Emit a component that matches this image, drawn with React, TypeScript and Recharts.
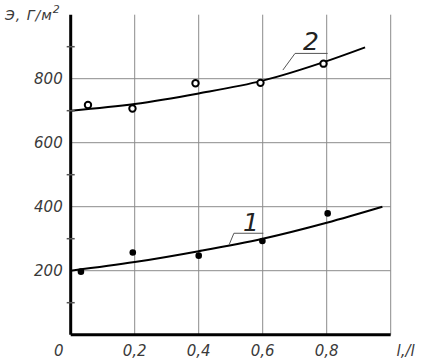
import React from 'react';
import { ComposedChart, Line, Scatter, XAxis, YAxis, ReferenceLine } from 'recharts';

// ticks & labels
const xTicks = [0, 0.2, 0.4, 0.6, 0.8];
const xTickLabels = ['0', '0,2', '0,4', '0,6', '0,8'];
const yTicks = [100, 200, 300, 400, 500, 600, 700, 800, 900];
const yLabelTicks = [200, 400, 600, 800];
const yTickLabels = ['200', '400', '600', '800'];
const vGrid = [0.2, 0.4, 0.6, 0.8, 1.0];
const hGrid = [200, 400, 600, 800];

// series 2 (open circles)
const points2X = [0.054, 0.193, 0.39, 0.593, 0.79];
const points2Y = [718, 707, 786, 787, 847];
const curve2X = [0, 0.2, 0.4, 0.6, 0.8, 0.92];
const curve2Y = [700, 721, 754, 794, 855, 898];

// series 1 (filled dots)
const points1X = [0.032, 0.194, 0.4, 0.599, 0.803];
const points1Y = [197, 257, 247, 293, 379];
const curve1X = [0, 0.2, 0.4, 0.6, 0.8, 0.974];
const curve1Y = [200, 227, 261, 300, 350, 400];

// curve labels and leaders
const leader2X = [0.663, 0.701, 0.803];
const leader2Y = [827, 879, 879];
const leader1X = [0.495, 0.51, 0.602];
const leader1Y = [281, 317, 317];
const curveLabels = ['1', '2'];
const curveLabelX = [0.563, 0.751];
const curveLabelY = [352, 917];

const zip = (xs: number[], ys: number[]) => xs.map((x, i) => ({ x, y: ys[i] }));

const points2 = zip(points2X, points2Y);
const points1 = zip(points1X, points1Y);
const curve2 = zip(curve2X, curve2Y);
const curve1 = zip(curve1X, curve1Y);
const leader2 = zip(leader2X, leader2Y);
const leader1 = zip(leader1X, leader1Y);
const labelData = curveLabels.map((label, i) => ({ x: curveLabelX[i], y: curveLabelY[i], label }));

const FONT = '"DejaVu Sans", sans-serif';
const TEXT = '#3a3a3a';
const GRID = '#8c8c8c';

const XTick = (props: any) => {
  const { x, y, payload } = props;
  const idx = xTicks.indexOf(payload.value);
  const label = idx >= 0 ? xTickLabels[idx] : '';
  const dx = payload.value === 0 ? -12 : 0;
  return (
    <text x={x + dx} y={y + 21} textAnchor="middle" fontFamily={FONT} fontStyle="italic" fontSize={15} fill={TEXT}>
      {label}
    </text>
  );
};

const YTick = (props: any) => {
  const { x, y, payload } = props;
  const idx = yLabelTicks.indexOf(payload.value);
  if (idx >= 0) {
    return (
      <text x={x - 8} y={y + 5.5} textAnchor="end" fontFamily={FONT} fontStyle="italic" fontSize={15} fill={TEXT}>
        {yTickLabels[idx]}
      </text>
    );
  }
  return <line x1={x - 4} x2={x + 4} y1={y} y2={y} stroke="#555" strokeWidth={1.5} />;
};

const OpenDot = (props: any) => (
  <circle cx={props.cx} cy={props.cy} r={3.2} fill="#fff" stroke="#000" strokeWidth={2} />
);
const FilledDot = (props: any) => <circle cx={props.cx} cy={props.cy} r={3.3} fill="#000" />;
const LabelShape = (props: any) => (
  <text
    x={props.cx}
    y={props.cy + 9}
    textAnchor="middle"
    fontFamily={FONT}
    fontStyle="italic"
    fontWeight={200}
    fontSize={25}
    fill="#222"
  >
    {props.payload.label}
  </text>
);

const YTitle = (props: any) => {
  const vb = props.viewBox || { x: 0, y: 14.7 };
  return (
    <text x={vb.x + 5} y={vb.y + 5.5} fontFamily={FONT} fontStyle="italic" fontSize={14} letterSpacing={1} fill={TEXT}>
      Э, Г/м
      <tspan fontSize={11} dy={-7}>2</tspan>
    </text>
  );
};

const XTitle = (props: any) => {
  const vb = props.viewBox || { x: 70.7, y: 334.7, width: 320 };
  return (
    <text x={vb.x + vb.width + 15} y={vb.y + 21} textAnchor="middle" fontFamily={FONT} fontStyle="italic" fontSize={15} fill={TEXT}>
      l,/l
    </text>
  );
};

export default function App() {
  return (
    <div style={{ position: 'absolute', left: 0, top: 0, width: 425, height: 362, background: '#fff' }}>
      <ComposedChart width={425} height={362} margin={{ top: 14.7, right: 34.3, bottom: 0, left: 0 }}>
        <XAxis
          type="number"
          dataKey="x"
          domain={[0, 1]}
          ticks={xTicks}
          allowDataOverflow
          axisLine={{ stroke: '#000', strokeWidth: 3 }}
          tickLine={false}
          tickSize={0}
          tickMargin={0}
          height={27.3}
          tick={<XTick />}
          label={<XTitle />}
        />
        <YAxis
          type="number"
          dataKey="y"
          domain={[0, 1000]}
          ticks={yTicks}
          allowDataOverflow
          axisLine={{ stroke: '#000', strokeWidth: 3 }}
          tickLine={false}
          tickSize={0}
          tickMargin={0}
          width={70.7}
          tick={<YTick />}
          label={<YTitle />}
        />
        {vGrid.map((v) => (
          <ReferenceLine key={'v' + v} x={v} stroke={GRID} strokeWidth={1} />
        ))}
        {hGrid.map((v) => (
          <ReferenceLine key={'h' + v} y={v} stroke={GRID} strokeWidth={1} />
        ))}
        <Line data={curve2} dataKey="y" type="monotone" stroke="#000" strokeWidth={2} dot={false} isAnimationActive={false} />
        <Line data={curve1} dataKey="y" type="monotone" stroke="#000" strokeWidth={2} dot={false} isAnimationActive={false} />
        <Line data={leader2} dataKey="y" type="linear" stroke="#555" strokeWidth={1} dot={false} isAnimationActive={false} />
        <Line data={leader1} dataKey="y" type="linear" stroke="#555" strokeWidth={1} dot={false} isAnimationActive={false} />
        <Scatter data={points2} dataKey="y" shape={<OpenDot />} isAnimationActive={false} />
        <Scatter data={points1} dataKey="y" shape={<FilledDot />} isAnimationActive={false} />
        <Scatter data={labelData} dataKey="y" shape={<LabelShape />} isAnimationActive={false} />
      </ComposedChart>
    </div>
  );
}
